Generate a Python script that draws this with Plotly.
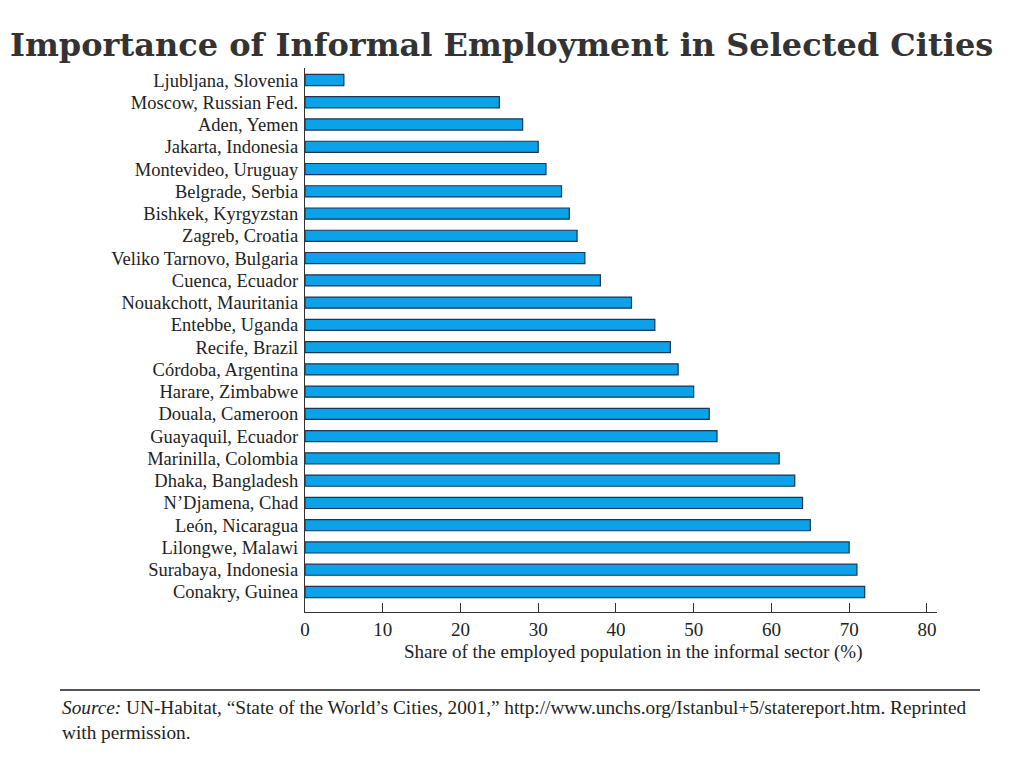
import plotly.graph_objects as go

cities = [
    "Ljubljana, Slovenia", "Moscow, Russian Fed.", "Aden, Yemen", "Jakarta, Indonesia",
    "Montevideo, Uruguay", "Belgrade, Serbia", "Bishkek, Kyrgyzstan", "Zagreb, Croatia",
    "Veliko Tarnovo, Bulgaria", "Cuenca, Ecuador", "Nouakchott, Mauritania", "Entebbe, Uganda",
    "Recife, Brazil", "Córdoba, Argentina", "Harare, Zimbabwe", "Douala, Cameroon",
    "Guayaquil, Ecuador", "Marinilla, Colombia", "Dhaka, Bangladesh", "N’Djamena, Chad",
    "León, Nicaragua", "Lilongwe, Malawi", "Surabaya, Indonesia", "Conakry, Guinea",
]
shares = [5, 25, 28, 30, 31, 33, 34, 35, 36, 38, 42, 45, 47, 48, 50, 52, 53,
          61, 63, 64, 65, 70, 71, 72]
x_ticks = [0, 10, 20, 30, 40, 50, 60, 70, 80]

title_text = "Importance of Informal Employment in Selected Cities"
x_title = "Share of the employed population in the informal sector (%)"
source_text = ("<i>Source:</i> UN-Habitat, “State of the World’s Cities, 2001,” "
               "http://www.unchs.org/Istanbul+5/statereport.htm. Reprinted<br>with permission.")

SERIF = "Liberation Serif, Times New Roman, serif"
OFF = 8  # page body margin
W, H = 1024, 768

fig = go.Figure(go.Bar(
    x=shares, y=cities, orientation="h", width=0.5,
    marker=dict(color="#0ba2ea", line=dict(color="#1c3550", width=1.2)),
))

n = len(cities)
# target plot area in page pixels: x 305..937, y 68..612
L = 305 - OFF
T = 68 - OFF
R = W - (937 - OFF)
B = H - (612 - OFF)
pw = W - L - R
ph = H - T - B

def px_x(p):
    return (p - OFF - L) / pw

def px_y(p):
    return (H - B - (p - OFF)) / ph

fig.update_layout(
    width=W, height=H,
    margin=dict(l=L, r=R, t=T, b=B, pad=0),
    paper_bgcolor="white", plot_bgcolor="white",
    showlegend=False,
    title=dict(text=f"<b>{title_text}</b>", x=(10 - OFF) / W, xref="container", xanchor="left",
               y=1 - (45 - OFF) / H, yref="container", yanchor="middle",
               font=dict(family="DejaVu Serif, serif", size=32, color="#333333")),
    font=dict(family=SERIF, color="#222222"),
    xaxis=dict(range=[0, 81.3], tickvals=x_ticks, ticks="inside", ticklen=9,
               tickcolor="#333", tickwidth=1.2, showline=True, linecolor="#333", linewidth=1.2,
               showgrid=False, zeroline=False, tickfont=dict(size=19, family=SERIF, color="#222")),
    yaxis=dict(categoryorder="array", categoryarray=cities, range=[n - 1 + 0.9, -0.54],
               showline=True, linecolor="#333", linewidth=1.2, ticks="", showgrid=False,
               ticklabelstandoff=2, tickfont=dict(size=18.5, family=SERIF, color="#222")),
    bargap=0.5,
)

fig.add_annotation(text=x_title, xref="paper", yref="paper", x=px_x(633), y=px_y(652),
                   xanchor="center", yanchor="middle", showarrow=False,
                   font=dict(size=19, family=SERIF, color="#222"))
fig.add_shape(type="line", xref="paper", yref="paper", x0=px_x(60), x1=px_x(980),
              y0=px_y(690), y1=px_y(690), line=dict(color="#555", width=2))
fig.add_annotation(text=source_text, xref="paper", yref="paper", x=px_x(60), y=px_y(695),
                   xanchor="left", yanchor="top", align="left", showarrow=False,
                   font=dict(size=19.3, family=SERIF, color="#222"))

fig.write_html("out.html")
